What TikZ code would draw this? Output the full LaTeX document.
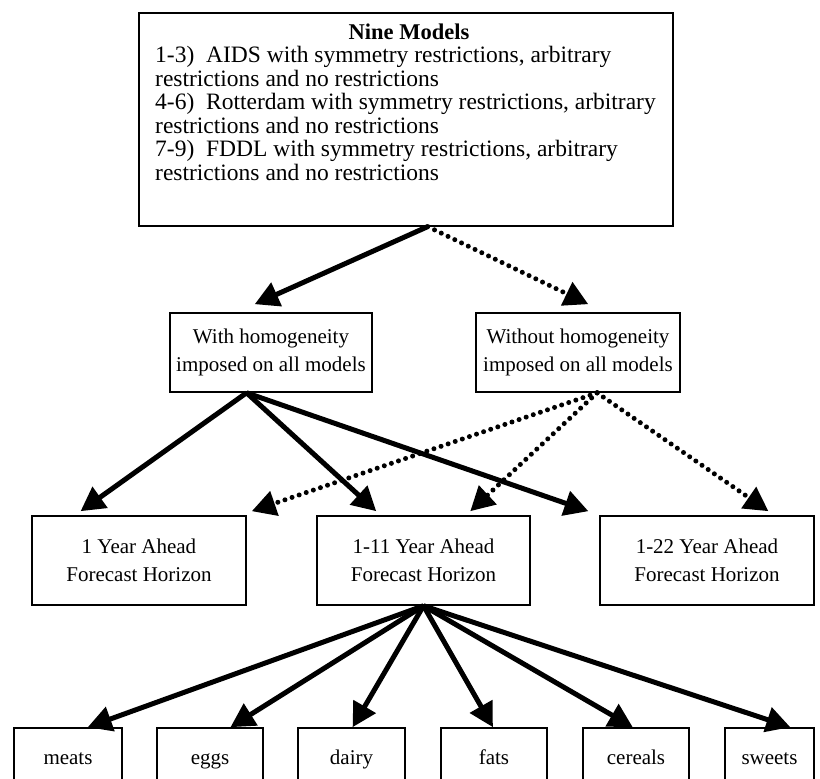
\documentclass[tikz,border=0pt]{standalone}
\usepackage{fontspec}
\setmainfont{Liberation Serif}
\usetikzlibrary{arrows.meta,calc}
\begin{document}
\begin{tikzpicture}[x=1pt,y=-1pt,
  box/.style={draw, line width=1.6pt, inner sep=0pt, align=center,
              font=\fontsize{21}{28}\selectfont},
  foodbox/.style={box, minimum height=64pt, text height=14pt, text depth=5pt},
  solidarr/.style={line width=5pt, -{Triangle[length=24pt,width=25pt]}},
  dotarr/.style={line width=5pt, line cap=round, dash pattern=on 0pt off 7.5pt,
                 -{Triangle[length=24pt,width=25pt]}}]
\path[use as bounding box, clip] (0,0) rectangle (820,779);

% top box
\node[draw, line width=1.6pt, minimum width=534pt, minimum height=213pt, anchor=north west] (top) at (138,12) {};
\node[anchor=base, inner sep=0pt, font=\fontsize{22.5}{23.5}\selectfont\bfseries] (title) at (409,39) {Nine Models};
\node[anchor=north west, inner sep=0pt, align=left, font=\fontsize{23.5}{23.5}\selectfont] (list) at (155,46)
 {1-3)\ \ AIDS with symmetry restrictions, arbitrary\\
  restrictions and no restrictions\\
  4-6)\ \ Rotterdam with symmetry restrictions, arbitrary\\
  restrictions and no restrictions\\
  7-9)\ \ FDDL with symmetry restrictions, arbitrary\\
  restrictions and no restrictions};

% second row
\node[box, minimum width=202pt, minimum height=79pt] (with) at (271,352.5) {With homogeneity\\imposed on all models};
\node[box, minimum width=204pt, minimum height=79pt] (without) at (578,352.5) {Without homogeneity\\imposed on all models};

% third row
\node[box, minimum width=214pt, minimum height=89pt] (h1) at (139,560.5) {1 Year Ahead\\Forecast Horizon};
\node[box, minimum width=213pt, minimum height=89pt] (h11) at (423.5,560.5) {1-11 Year Ahead\\Forecast Horizon};
\node[box, minimum width=214pt, minimum height=89pt] (h22) at (707,560.5) {1-22 Year Ahead\\Forecast Horizon};

% bottom row
\node[foodbox, minimum width=108pt] (meats) at (68,760) {meats};
\node[foodbox, minimum width=106pt] (eggs) at (210,760) {eggs};
\node[foodbox, minimum width=107pt] (dairy) at (351.5,760) {dairy};
\node[foodbox, minimum width=106pt] (fats) at (494,760) {fats};
\node[foodbox, minimum width=106pt] (cereals) at (636,760) {cereals};
\node[foodbox, minimum width=89pt] (sweets) at (769.5,760) {sweets};

% apex coordinates
\coordinate (ta) at ($(top.south west)!0.541!(top.south east)$);
\coordinate (wa) at ($(with.south west)!0.38!(with.south east)$);
\coordinate (woa) at ($(without.south west)!0.593!(without.south east)$);
\coordinate (fa) at (h11.south);

% arrows from top box
\draw[solidarr] (ta) -- ($(with.north west)!0.42!(with.north east)+(0,-8)$);
\draw[dotarr] (ta) -- ($(without.north west)!0.55!(without.north east)+(0,-8)$);

% with homogeneity
\draw[solidarr] (wa) -- ($(h1.north west)!0.229!(h1.north east)+(0,-4)$);
\draw[solidarr] (wa) -- ($(h11.north west)!0.28!(h11.north east)+(0,-4)$);
\draw[solidarr] (wa) -- ($(h22.north west)!-0.05!(h22.north east)+(0,-4)$);

% without homogeneity
\draw[dotarr] (woa) -- ($(h1.north west)!1.023!(h1.north east)+(0,-4)$);
\draw[dotarr] (woa) -- ($(h11.north west)!0.718!(h11.north east)+(0,-4)$);
\draw[dotarr] (woa) -- ($(h22.north west)!0.785!(h22.north east)+(0,-4)$);

% fan to food groups
\draw[solidarr] (fa) -- ($(meats.north west)!0.68!(meats.north east)$);
\draw[solidarr] (fa) -- ($(eggs.north west)!0.69!(eggs.north east)$);
\draw[solidarr] (fa) -- ($(dairy.north west)!0.51!(dairy.north east)$);
\draw[solidarr] (fa) -- ($(fats.north west)!0.49!(fats.north east)$);
\draw[solidarr] (fa) -- ($(cereals.north west)!0.47!(cereals.north east)$);
\draw[solidarr] (fa) -- ($(sweets.north west)!0.73!(sweets.north east)$);
\end{tikzpicture}
\end{document}
